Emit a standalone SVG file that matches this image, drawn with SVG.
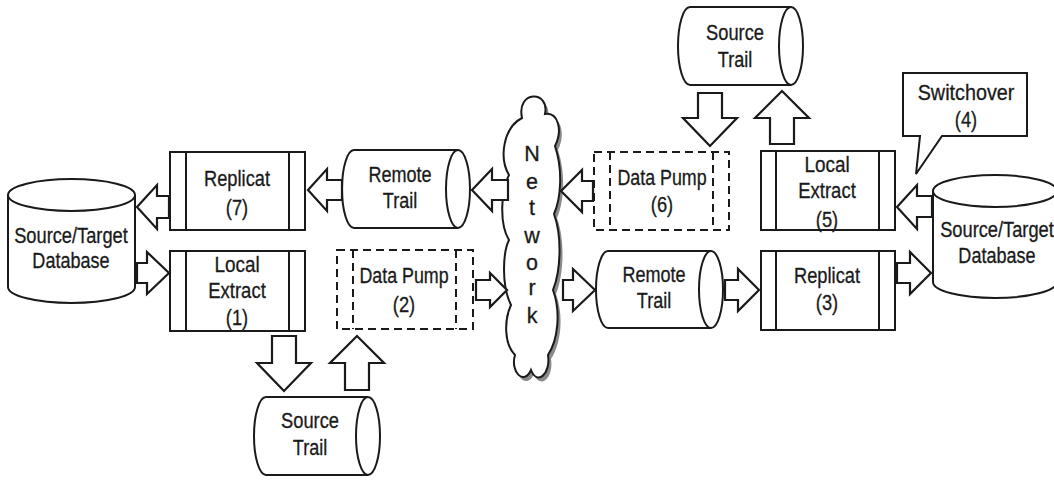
<svg xmlns="http://www.w3.org/2000/svg" width="1054" height="480" viewBox="0 0 1054 480">
<style>
.s{fill:#fff;stroke:#1a1a1a;stroke-width:2;stroke-linejoin:miter}
.l{fill:none;stroke:#1a1a1a;stroke-width:2}
.d{fill:#fff;stroke:#1a1a1a;stroke-width:2;stroke-dasharray:8 5}
.dl{fill:none;stroke:#1a1a1a;stroke-width:2;stroke-dasharray:8 5}
.a{fill:#fff;stroke:#1a1a1a;stroke-width:2.2;stroke-linejoin:miter}
text{font-family:"Liberation Sans",Arial,sans-serif;font-size:21.5px;fill:#1a1a1a;text-anchor:middle;stroke:#1a1a1a;stroke-width:0.3}
</style>
<rect width="1054" height="480" fill="#fff"/>
<g id="db-left">
<path class="s" d="M8,195 A63.5,16 0 0 1 135,195 V287 A63.5,16 0 0 1 8,287 Z"/>
<path class="l" d="M8,195 A63.5,16 0 0 0 135,195"/>
<text transform="translate(71,243) scale(.85,1)">Source/Target</text>
<text transform="translate(71,268) scale(.84,1)">Database</text>
</g>
<g id="replicat7">
<rect class="s" x="170" y="152" width="135" height="78"/>
<path class="l" d="M186,152 V230 M289,152 V230"/>
<text transform="translate(237,186) scale(.85,1)">Replicat</text>
<text transform="translate(237,215) scale(.85,1)">(7)</text>
</g>
<g id="extract1">
<rect class="s" x="170" y="251" width="135" height="80"/>
<path class="l" d="M186,251 V331 M289,251 V331"/>
<text transform="translate(237,272) scale(.88,1)">Local</text>
<text transform="translate(237,298) scale(.86,1)">Extract</text>
<text transform="translate(237,325) scale(.85,1)">(1)</text>
</g>
<g id="remote-trail-top">
<path class="s" d="M354,150 H458 A12,39 0 0 1 458,228 H354 A12,39 0 0 1 354,150 Z"/>
<path class="l" d="M458,150 A12,39 0 0 0 458,228"/>
<text transform="translate(400,182) scale(.84,1)">Remote</text>
<text transform="translate(400,208) scale(.84,1)">Trail</text>
</g>
<g id="datapump2">
<rect class="d" x="337" y="250" width="136" height="79"/>
<path class="dl" d="M353,250 V329 M456,250 V329"/>
<text transform="translate(404,283) scale(.83,1)">Data Pump</text>
<text transform="translate(404,312) scale(.85,1)">(2)</text>
</g>
<g id="source-trail-bottom">
<path class="s" d="M266,397 H368 A12,39 0 0 1 368,475 H266 A12,39 0 0 1 266,397 Z"/>
<path class="l" d="M368,397 A12,39 0 0 0 368,475"/>
<text transform="translate(310,428) scale(.85,1)">Source</text>
<text transform="translate(310,455) scale(.84,1)">Trail</text>
</g>
<g id="network">
<path fill="#8a8a8a" transform="translate(3,4)" d="M522,118 C516,90 550,90 545,114 C558,112 563,130 555,146 C563,170 561,198 554,214 C562,236 561,270 553,290 C561,312 558,340 548,355 C551,374 537,386 531,370 C524,386 510,372 515,355 C504,344 504,320 511,305 C501,285 503,252 509,240 C499,224 501,190 509,175 C499,158 503,128 522,118 Z"/>
<path class="s" d="M522,118 C516,90 550,90 545,114 C558,112 563,130 555,146 C563,170 561,198 554,214 C562,236 561,270 553,290 C561,312 558,340 548,355 C551,374 537,386 531,370 C524,386 510,372 515,355 C504,344 504,320 511,305 C501,285 503,252 509,240 C499,224 501,190 509,175 C499,158 503,128 522,118 Z"/>
<text x="532" y="161">N</text>
<text x="532" y="189">e</text>
<text x="532" y="215">t</text>
<text x="532" y="243">w</text>
<text x="532" y="270">o</text>
<text x="532" y="295">r</text>
<text x="532" y="323">k</text>
</g>
<g id="datapump6">
<rect class="d" x="594" y="152" width="135" height="78"/>
<path class="dl" d="M610,152 V230 M713,152 V230"/>
<text transform="translate(662,185) scale(.83,1)">Data Pump</text>
<text transform="translate(662,212) scale(.85,1)">(6)</text>
</g>
<g id="remote-trail-bottom">
<path class="s" d="M608,251 H711 A12,38.5 0 0 1 711,328 H608 A12,38.5 0 0 1 608,251 Z"/>
<path class="l" d="M711,251 A12,38.5 0 0 0 711,328"/>
<text transform="translate(654,282) scale(.84,1)">Remote</text>
<text transform="translate(654,308) scale(.84,1)">Trail</text>
</g>
<g id="source-trail-top">
<path class="s" d="M690,7 H791 A12,39 0 0 1 791,85 H690 A12,39 0 0 1 690,7 Z"/>
<path class="l" d="M791,7 A12,39 0 0 0 791,85"/>
<text transform="translate(735,40) scale(.85,1)">Source</text>
<text transform="translate(735,67) scale(.84,1)">Trail</text>
</g>
<g id="extract5">
<rect class="s" x="761" y="151" width="134" height="79"/>
<path class="l" d="M776,151 V230 M879,151 V230"/>
<text transform="translate(827,172) scale(.88,1)">Local</text>
<text transform="translate(827,198) scale(.86,1)">Extract</text>
<text transform="translate(827,227) scale(.85,1)">(5)</text>
</g>
<g id="replicat3">
<rect class="s" x="761" y="251" width="134" height="79"/>
<path class="l" d="M776,251 V330 M879,251 V330"/>
<text transform="translate(827,283) scale(.85,1)">Replicat</text>
<text transform="translate(827,310) scale(.85,1)">(3)</text>
</g>
<g id="db-right">
<path class="s" d="M933,191 A62,16 0 0 1 1057,191 V282 A62,16 0 0 1 933,282 Z"/>
<path class="l" d="M933,191 A62,16 0 0 0 1057,191"/>
<text transform="translate(997,237) scale(.85,1)">Source/Target</text>
<text transform="translate(997,263) scale(.84,1)">Database</text>
</g>
<g id="switchover">
<path class="s" d="M903,73 H1027 V136 H942 L916,174 L920,136 H903 Z"/>
<text transform="translate(966,100) scale(.92,1)">Switchover</text>
<text transform="translate(966,127) scale(.85,1)">(4)</text>
</g>
<g id="connectors">
<polygon class="a" points="308,190 327,169 327,180 342,180 342,200 327,200 327,211"/>
<polygon class="a" points="137,207 157,185 157,196 169,196 169,218 157,218 157,229"/>
<polygon class="a" points="169,273 147,252 147,263 137,263 137,283 147,283 147,294"/>
<polygon class="a" points="507,290 490,273 490,280 476,280 476,300 490,300 490,307"/>
<polygon class="a" points="595,290 573,269 573,280 563,280 563,300 573,300 573,311"/>
<polygon class="a" points="759,290 738,269 738,280 725,280 725,300 738,300 738,311"/>
<polygon class="a" points="931,273 910,252 910,263 897,263 897,283 910,283 910,294"/>
<polygon class="a" points="897,207 917,185 917,196 932,196 932,217 917,217 917,229"/>
<polygon class="a" points="561,191 582,170 582,181 593,181 593,201 582,201 582,212"/>
<polygon class="a" points="472,190 492,169 492,180 508,180 508,200 492,200 492,211"/>
<polygon class="a" points="284,391 257,363 272,363 272,336 296,336 296,363 311,363"/>
<polygon class="a" points="357,336 330,363 345,363 345,390 369,390 369,363 384,363"/>
<polygon class="a" points="710,146 683,118 698,118 698,93 722,93 722,118 737,118"/>
<polygon class="a" points="782,91 755,118 770,118 770,144 794,144 794,118 809,118"/>
</g>
</svg>
